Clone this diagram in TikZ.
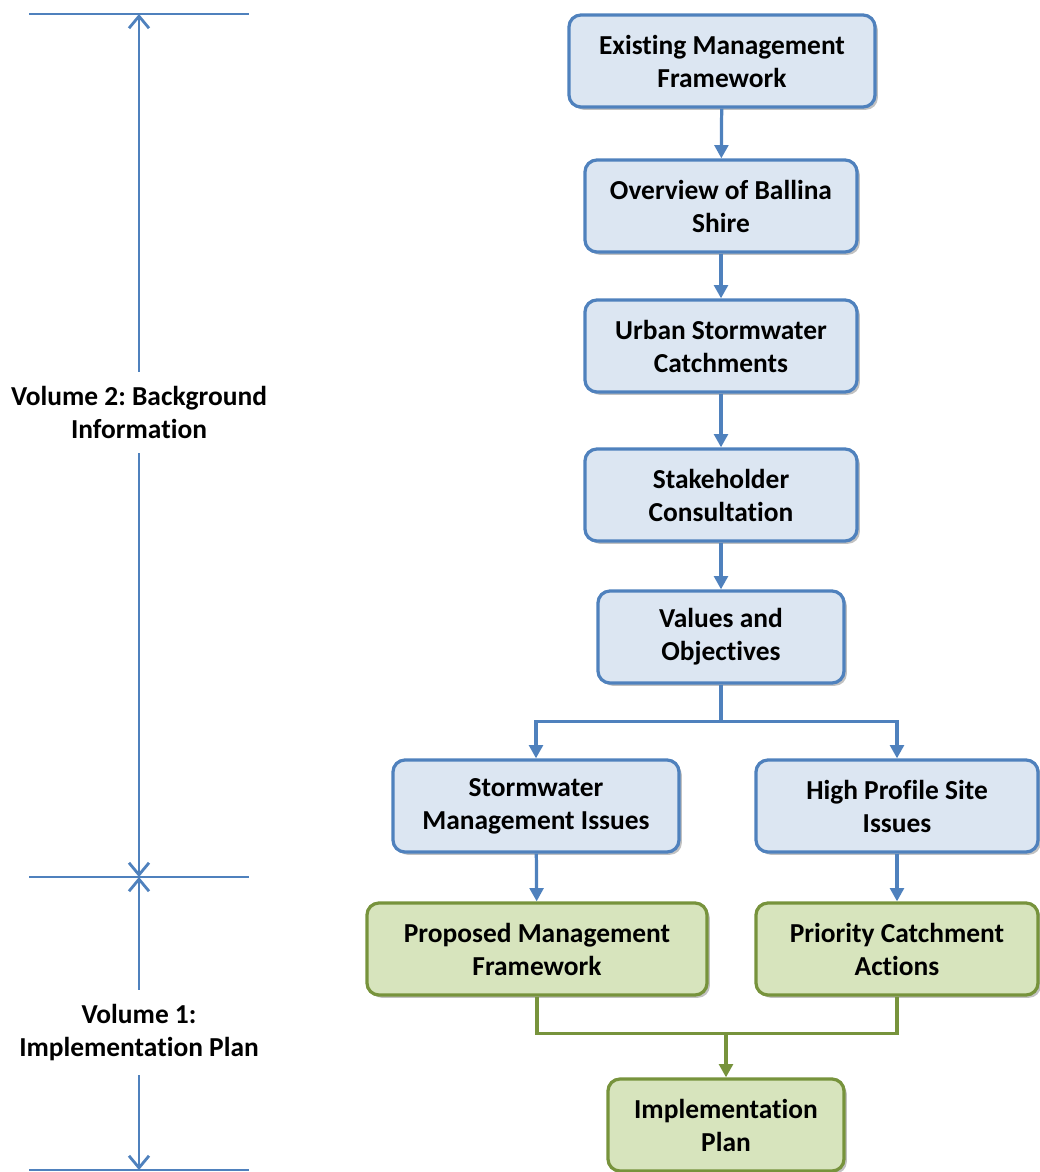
\documentclass[tikz,border=0pt]{standalone}
\usepackage{fontspec}
\setmainfont[Ligatures=NoCommon]{Carlito}
\usetikzlibrary{arrows.meta, positioning, shadows}
\definecolor{lineblue}{HTML}{4F81BD}
\definecolor{paleblue}{HTML}{DCE6F2}
\definecolor{linegreen}{HTML}{77933C}
\definecolor{palegreen}{HTML}{D7E4BD}
\frenchspacing

\begin{document}
\begin{tikzpicture}[
    x=0.025cm, y=-0.025cm,
    font=\fontsize{19.5}{23.5}\selectfont\bfseries,
    % boxes
    stage/.style = {rectangle, rounded corners=0.3cm, draw=lineblue, fill=paleblue,
                    line width=2.3pt, minimum height=2.3cm, align=center,
                    drop shadow={shadow xshift=0.07cm, shadow yshift=-0.07cm,
                                 opacity=0.35, fill=black!70}},
    plan/.style  = {stage, draw=linegreen, fill=palegreen},
    % connectors
    flow/.style  = {-{Triangle[length=0.33cm, width=0.34cm]}, line width=2.3pt, lineblue},
    flowg/.style = {flow, linegreen},
    joint/.style = {line width=2.3pt, linegreen},
    span/.style  = {{Straight Barb[length=0.3cm, width=0.5cm]}-{Straight Barb[length=0.3cm, width=0.5cm]},
                    line width=2pt, lineblue},
    tick/.style  = {line width=2pt, lineblue},
    vol/.style   = {fill=white, text=black, align=center, inner xsep=1pt, inner ysep=0.35cm},
]
\useasboundingbox (0,0) rectangle (1040,1172);

% -- Volume 2 : background --------------------------------------------
\node[stage, minimum width=7.65cm] (emf) at (722,61)  {Existing Management\\Framework};
\node[stage, minimum width=6.8cm]  (obs) at (721,206) {Overview of Ballina\\Shire};
\node[stage, minimum width=6.8cm]  (usc) at (721,346) {Urban Stormwater\\Catchments};
\node[stage, minimum width=6.8cm]  (stc) at (721,495) {Stakeholder\\Consultation};
\node[stage, minimum width=6.15cm] (vao) at (721,637) {Values and\\Objectives};

\node[stage, minimum width=7.15cm] (smi) at (536,806) {Stormwater\\Management Issues};
\node[stage, minimum width=7.05cm] (hps) at (897,806) {High Profile Site\\Issues};

% -- Volume 1 : implementation ----------------------------------------
\node[plan, minimum width=8.5cm]  (pmf) at (537,949)  {Proposed Management\\Framework};
\node[plan, minimum width=7.05cm] (pca) at (897,949)  {Priority Catchment\\Actions};
\node[plan, minimum width=5.9cm]  (imp) at (726,1125) {Implementation\\Plan};

% -- Connectors -------------------------------------------------------
\draw[flow] (emf) -- (obs);
\draw[flow] (obs) -- (usc);
\draw[flow] (usc) -- (stc);
\draw[flow] (stc) -- (vao);

\path (vao.south) ++(0,37) coordinate (split);
\draw[line width=2.3pt, lineblue] (vao.south) -- (split);
\draw[flow] (split) -| (smi);
\draw[flow] (split) -| (hps);

\draw[flow] (smi) -- (pmf);
\draw[flow] (hps) -- (pca);

\path (imp.north) ++(0,-44) coordinate (merge);
\draw[joint] (pmf.south) |- (merge) -| (pca.south);
\draw[flowg] (merge) -- (imp);

% -- Volume brackets --------------------------------------------------
\coordinate (v2top) at (139,14);
\coordinate (vmid)  at (139,877);
\coordinate (v1bot) at (139,1170);

\draw[tick] (29,14)   -- (249,14);
\draw[tick] (29,877)  -- (249,877);
\draw[tick] (29,1170) -- (249,1170);

\draw[span] (v2top) -- node[vol, pos=0.462] {Volume 2: Background\\Information} (vmid);
\draw[span] (vmid)  -- node[vol, pos=0.53]  {Volume 1:\\Implementation Plan} (v1bot);

\end{tikzpicture}
\end{document}
